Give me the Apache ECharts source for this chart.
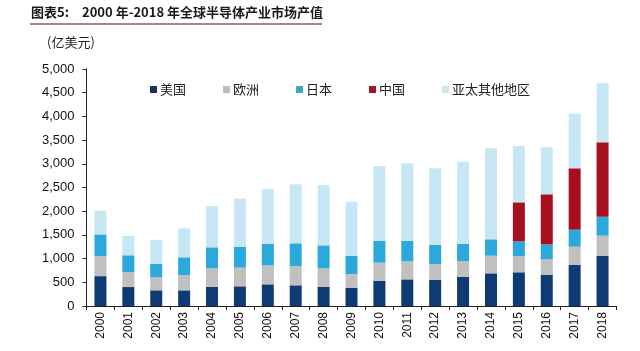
<!DOCTYPE html>
<html>
<head>
<meta charset="utf-8">
<script src="https://cdn.jsdelivr.net/npm/echarts@6/dist/echarts.min.js"></script>
<style>
html,body{margin:0;padding:0;background:#fff;}
#main{width:640px;height:351px;}
</style>
</head>
<body>
<div id="main"></div>
<script>
var years = ['2000','2001','2002','2003','2004','2005','2006','2007','2008','2009','2010','2011','2012','2013','2014','2015','2016','2017','2018'];
var seriesNames = ['美国','欧洲','日本','中国','亚太其他地区'];
var usa   = [630, 400, 331, 331, 401, 415, 457, 436, 401, 380, 534, 562, 548, 618, 689, 711, 654, 865, 1055];
var europe= [425, 317, 274, 323, 394, 394, 400, 407, 394, 295, 380, 380, 338, 331, 373, 344, 331, 387, 429];
var japan = [455, 353, 288, 373, 443, 443, 455, 479, 485, 380, 464, 429, 401, 359, 345, 309, 316, 358, 400];
var china = [0, 0, 0, 0, 0, 0, 0, 0, 0, 0, 0, 0, 0, 0, 0, 823, 1055, 1295, 1569];
var asiaOther = [500, 407, 499, 611, 872, 1012, 1155, 1245, 1273, 1146, 1576, 1639, 1618, 1737, 1920, 1189, 991, 1153, 1245];
var yTicks = [0, 500, 1000, 1500, 2000, 2500, 3000, 3500, 4000, 4500, 5000];

var colors = ['#0e3b74', '#c0c0c0', '#2ba8dc', '#a80f1d', '#c7e7f4'];
var legendColors = ['#1c2f66', '#bdbdbd', '#3aa9c4', '#a3162a', '#d3e3e6'];
var seriesData = [usa, europe, japan, china, asiaOther];

var chart = echarts.init(document.getElementById('main'));
var series = seriesNames.map(function (n, i) {
  return {
    name: n,
    type: 'bar',
    stack: 'total',
    barWidth: 12,
    data: seriesData[i],
    itemStyle: { color: colors[i] },
    emphasis: { disabled: true }
  };
});

chart.setOption({
  animation: false,
  backgroundColor: '#fff',
  graphic: [
    { type: 'text', left: 31, top: 6, style: { text: '图表5:', fontSize: 13, fontWeight: 'bold', fill: '#1a1a1a', fontFamily: 'Noto Sans CJK SC' } },
    { type: 'text', left: 82, top: 6, style: { text: '2000 年-2018 年全球半导体产业市场产值', fontSize: 13, fontWeight: 'bold', fill: '#1a1a1a', fontFamily: 'Noto Sans CJK SC' } },
    { type: 'rect', shape: { x: 30, y: 23, width: 292, height: 2 }, style: { fill: '#a88396' } },
    { type: 'text', left: 47, top: 36, style: { text: '(亿美元)', fontSize: 13, fill: '#222', fontFamily: 'Noto Sans CJK SC' } }
  ],
  legend: {
    left: 145, top: 78,
    itemWidth: 7, itemHeight: 7, itemGap: 37,
    icon: 'rect',
    data: seriesNames.map(function (n, i) {
      return { name: n, itemStyle: { color: legendColors[i] } };
    }),
    textStyle: { fontSize: 13, color: '#222', fontFamily: 'Noto Sans CJK SC', padding: [0, 0, 0, -2] }
  },
  grid: { left: 86.5, right: 23.5, top: 69, bottom: 45 },
  xAxis: {
    type: 'category',
    data: years,
    axisLine: { lineStyle: { color: '#222', width: 1 } },
    axisTick: { show: true, alignWithLabel: false, length: 4, lineStyle: { color: '#222' } },
    axisLabel: { rotate: 90, fontSize: 12, color: '#111', margin: 6, fontFamily: 'Liberation Sans' }
  },
  yAxis: {
    type: 'value',
    min: yTicks[0], max: yTicks[yTicks.length - 1], interval: 500,
    axisLine: { show: true, lineStyle: { color: '#222', width: 1 } },
    axisTick: { show: true, length: 4, inside: false, lineStyle: { color: '#222' } },
    splitLine: { show: false },
    axisLabel: {
      fontSize: 13, color: '#111', margin: 12, fontFamily: 'Liberation Sans',
      formatter: function (v) { return v.toLocaleString('en-US'); }
    }
  },
  series: series
});
</script>
</body>
</html>
